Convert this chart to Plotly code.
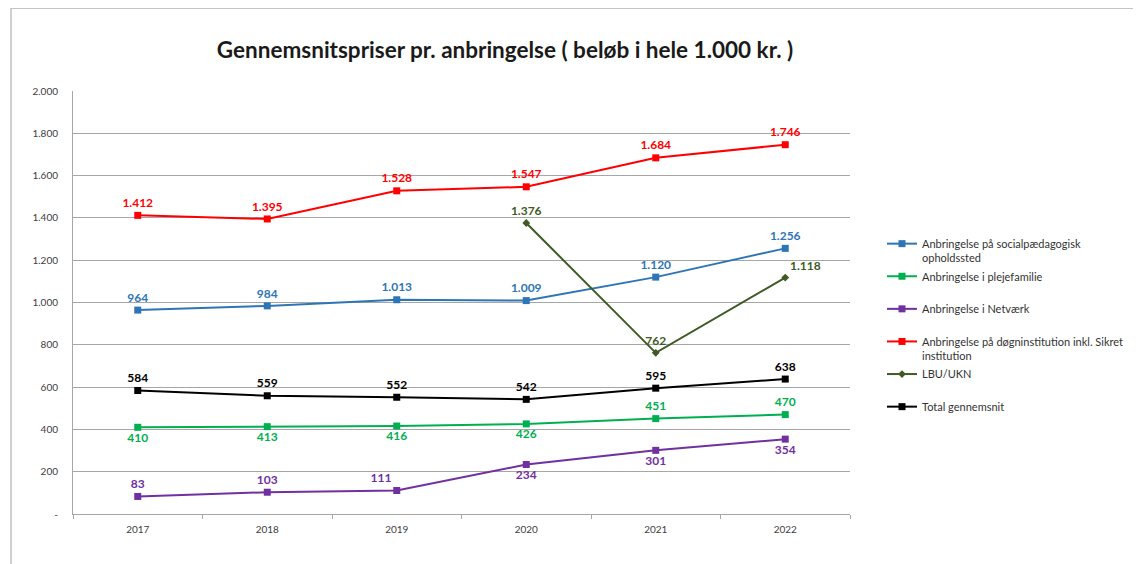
import plotly.graph_objects as go

years = ["2017", "2018", "2019", "2020", "2021", "2022"]

socialpaed = [964, 984, 1013, 1009, 1120, 1256]
plejefamilie = [410, 413, 416, 426, 451, 470]
netvaerk = [83, 103, 111, 234, 301, 354]
doegn = [1412, 1395, 1528, 1547, 1684, 1746]
lbu = [None, None, None, 1376, 762, 1118]
total = [584, 559, 552, 542, 595, 638]

y_tickvals = [0, 200, 400, 600, 800, 1000, 1200, 1400, 1600, 1800, 2000]
y_ticktext = ["-", "200", "400", "600", "800", "1.000", "1.200", "1.400", "1.600", "1.800", "2.000"]

series = [
    dict(name="Anbringelse på socialpædagogisk<br>opholdssted", y=socialpaed,
         color="#2E75B6", symbol="square", size=7,
         pos=["top center"] * 6),
    dict(name="Anbringelse i plejefamilie<br> ", y=plejefamilie,
         color="#00B050", symbol="square", size=7,
         pos=["bottom center"] * 4 + ["top center"] * 2),
    dict(name="Anbringelse i Netværk<br> ", y=netvaerk,
         color="#7030A0", symbol="square", size=7,
         pos=["top center", "top center", "top left", "bottom center", "bottom center", "bottom center"]),
    dict(name="Anbringelse på døgninstitution inkl. Sikret<br>institution", y=doegn,
         color="#FF0000", symbol="square", size=7,
         pos=["top center"] * 6),
    dict(name="LBU/UKN<br> ", y=lbu,
         color="#3F5A24", symbol="diamond", size=6,
         pos=["top center", "top center", "top center", "top center", "top center", "top right"]),
    dict(name="Total gennemsnit<br> ", y=total,
         color="#000000", symbol="square", size=7,
         pos=["top center"] * 6),
]

fig = go.Figure()
for i, s in enumerate(series):
    fig.add_trace(go.Scatter(
        x=years, y=s["y"], name=s["name"], mode="lines+markers+text",
        line=dict(color=s["color"], width=2),
        marker=dict(color=s["color"], symbol=s["symbol"], size=s["size"]),
        texttemplate="%{y:,.0f}", textposition=s["pos"],
        textfont=dict(color=s["color"], size=12, family="Lato", weight="bold"),
        legendgroup=f"g{i}", connectgaps=False, cliponaxis=False,
    ))

W, H = 1133, 556
L, T, PW, PH = 65, 83, 777, 423

fig.update_layout(
    width=W, height=H,
    paper_bgcolor="white", plot_bgcolor="white",
    separators=",.",
    margin=dict(l=L, r=W - L - PW, t=T, b=H - T - PH),
    title=dict(text="<b>Gennemsnitspriser pr. anbringelse ( beløb i hele 1.000 kr. )</b>",
               x=497 / W, xanchor="center", y=1 - 42 / H, yanchor="middle",
               font=dict(family="Lato", size=22.5, color="#1a1a1a")),
    font=dict(family="Lato", color="#404040"),
    showlegend=True,
    legend=dict(x=(874 - L) / PW, y=1 - (222 - T) / PH, xanchor="left", yanchor="top",
                font=dict(size=11, color="#333333"), valign="top",
                tracegroupgap=1, itemwidth=30, bgcolor="rgba(0,0,0,0)"),
    shapes=[
        dict(type="line", xref="paper", yref="paper", x0=(3 - L) / PW, x1=(W - L) / PW,
             y0=1 + (T - 0) / PH, y1=1 + (T - 0) / PH,
             line=dict(color="#b0b0b0", width=1.5)),
        dict(type="line", xref="paper", yref="paper", x0=(3 - L) / PW, x1=(3 - L) / PW,
             y0=1 + (T - 0) / PH, y1=-(H - T - PH) / PH,
             line=dict(color="#c0c0c0", width=1.5)),
    ],
)

fig.update_xaxes(
    type="category", showgrid=False, showline=True, linecolor="#a6a6a6", linewidth=1,
    ticks="outside", tickson="boundaries", ticklen=4, tickcolor="#a6a6a6",
    ticklabelstandoff=6,
    tickfont=dict(size=10, color="#404040"), range=[-0.5, 5.5],
)
fig.update_yaxes(
    range=[0, 2000], tickvals=y_tickvals, ticktext=y_ticktext,
    showgrid=True, gridcolor="#a6a6a6", gridwidth=1,
    showline=True, linecolor="#a6a6a6", linewidth=1, zeroline=False,
    ticks="", ticklabelstandoff=12, tickfont=dict(size=10, color="#404040"),
)

fig.write_html("out.html")
